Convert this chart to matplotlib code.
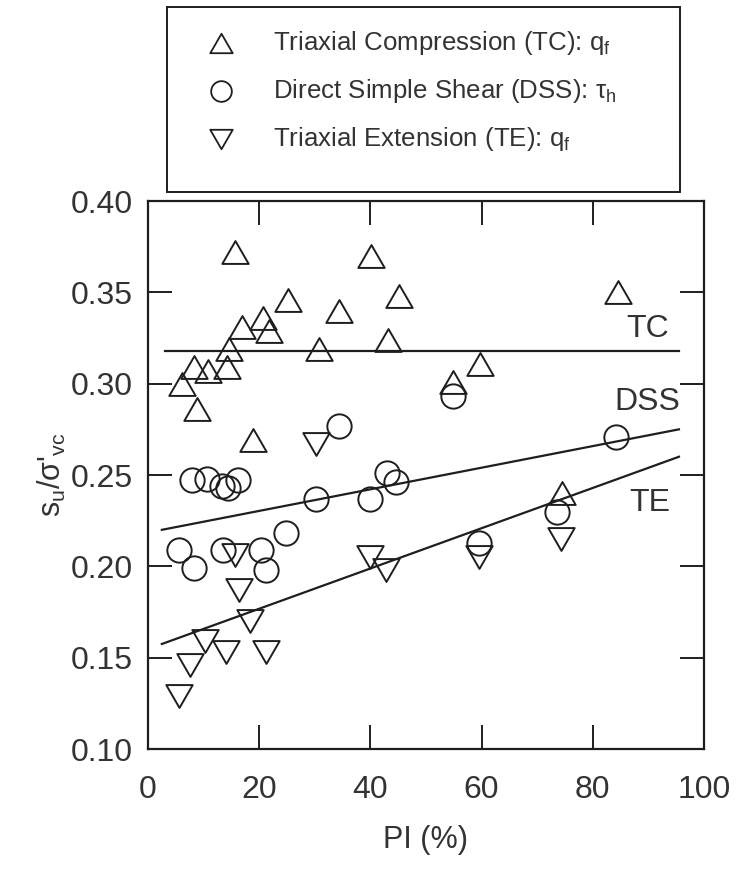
import matplotlib
matplotlib.use("Agg")
import matplotlib.pyplot as plt
from matplotlib.path import Path
from matplotlib.lines import Line2D
from matplotlib.patches import Rectangle

plt.rcParams["font.family"] = ["Liberation Sans", "DejaVu Sans"]
plt.rcParams["mathtext.fontset"] = "custom"
plt.rcParams["mathtext.rm"] = "Liberation Sans"
plt.rcParams["mathtext.it"] = "Liberation Sans"

# ---- data: undrained strength ratio vs plasticity index ----
tc_pi = [6.2, 8.3, 8.9, 10.8, 14.3, 14.6, 15.6, 17.0, 18.8, 20.7, 21.8,
         25.2, 30.8, 34.4, 40.2, 43.2, 45.1, 54.9, 59.8, 74.5, 84.6]
tc_su = [0.300, 0.309, 0.286, 0.307, 0.309, 0.319, 0.372, 0.331, 0.269, 0.336, 0.329,
         0.346, 0.319, 0.340, 0.370, 0.324, 0.348, 0.301, 0.311, 0.240, 0.350]

dss_pi = [5.6, 7.9, 8.2, 10.6, 13.4, 13.5, 14.4, 16.2, 20.4, 21.3, 24.9,
          30.3, 34.4, 39.9, 43.0, 44.7, 54.9, 59.5, 73.6, 84.2]
dss_su = [0.209, 0.247, 0.199, 0.248, 0.244, 0.209, 0.243, 0.247, 0.209, 0.198, 0.218,
          0.237, 0.277, 0.237, 0.251, 0.246, 0.293, 0.213, 0.230, 0.271]

te_pi = [5.5, 7.6, 10.3, 14.0, 15.6, 16.4, 18.3, 21.3, 30.3, 39.9, 42.9, 59.5, 74.3]
te_su = [0.129, 0.146, 0.159, 0.153, 0.206, 0.187, 0.170, 0.153, 0.267, 0.205, 0.198,
         0.205, 0.215]

# trend lines
tc_fit_pi, tc_fit_su = [3.0, 95.5], [0.318, 0.318]
dss_fit_pi, dss_fit_su = [2.5, 95.5], [0.220, 0.275]
te_fit_pi, te_fit_su = [2.5, 95.5], [0.1575, 0.260]

x_ticks = [0, 20, 40, 60, 80, 100]
y_ticks = [0.10, 0.15, 0.20, 0.25, 0.30, 0.35, 0.40]

legend_labels = [
    r"Triaxial Compression (TC): q$_\mathregular{f}$",
    r"Direct Simple Shear (DSS): τ$_\mathregular{h}$",
    r"Triaxial Extension (TE): q$_\mathregular{f}$",
]

ink = "#1e1e1e"
txt = "#333333"

# equilateral triangle markers
tri_up = Path([(0, 0.866), (-1, -0.866), (1, -0.866), (0, 0.866)],
              [Path.MOVETO, Path.LINETO, Path.LINETO, Path.CLOSEPOLY])
tri_dn = Path([(0, -0.866), (-1, 0.866), (1, 0.866), (0, -0.866)],
              [Path.MOVETO, Path.LINETO, Path.LINETO, Path.CLOSEPOLY])

fig = plt.figure(figsize=(7.41, 8.74), dpi=100)
ax = fig.add_axes([0.1997, 0.1430, 0.7503, 0.6270])

mk = dict(linestyle="none", mfc="none", mec=ink, mew=1.4)
ax.plot(tc_pi, tc_su, marker=tri_up, ms=19, **mk)
ax.plot(dss_pi, dss_su, marker="o", ms=17.5, **mk)
ax.plot(te_pi, te_su, marker=tri_dn, ms=19, **mk)

for xs, ys in [(tc_fit_pi, tc_fit_su), (dss_fit_pi, dss_fit_su), (te_fit_pi, te_fit_su)]:
    ax.plot(xs, ys, color=ink, lw=1.6)

ax.text(89.8, 0.330, "TC", ha="center", va="center", fontsize=23, color=txt)
ax.text(89.9, 0.290, "DSS", ha="center", va="center", fontsize=23, color=txt)
ax.text(90.3, 0.2345, "TE", ha="center", va="center", fontsize=23, color=txt)

ax.set_xlim(0, 100)
ax.set_ylim(0.10, 0.40)
ax.set_xticks(x_ticks)
ax.set_xticklabels([str(v) for v in x_ticks])
ax.set_yticks(y_ticks)
ax.set_yticklabels([f"{v:.2f}" for v in y_ticks])
ax.tick_params(direction="in", length=17.5, width=1.4, top=True, right=True,
               labelsize=23, labelcolor=txt, color=ink)
ax.tick_params(axis="x", pad=19)
ax.tick_params(axis="y", pad=11)
for s in ax.spines.values():
    s.set_linewidth(1.6)
    s.set_color(ink)

ax.set_xlabel("PI (%)", fontsize=22, color=txt, labelpad=14)
ax.set_ylabel(r"s$_\mathregular{u}$/σ'$_\mathregular{vc}$", fontsize=22, color=txt, labelpad=2)

# legend box drawn in figure pixels
W, H = 741.0, 874.0
def fx(px):
    return px / W
def fy(py):
    return 1 - py / H

fig.add_artist(Rectangle((fx(167), fy(192)), fx(680) - fx(167), fy(7) - fy(192),
                         transform=fig.transFigure, fill=False, edgecolor=ink, lw=1.4))
rows = [43, 91, 139]
markers = [(tri_up, 19), ("o", 17.5), (tri_dn, 19)]
for (m, s), lab, ry in zip(markers, legend_labels, rows):
    fig.add_artist(Line2D([fx(221)], [fy(ry)], marker=m, ms=s * 0.85, mfc="none",
                          mec=ink, mew=1.3, linestyle="none", transform=fig.transFigure))
    fig.text(fx(273), fy(ry), lab, ha="left", va="center", fontsize=18.6, color=txt)

fig.savefig("out.png", dpi=100)
